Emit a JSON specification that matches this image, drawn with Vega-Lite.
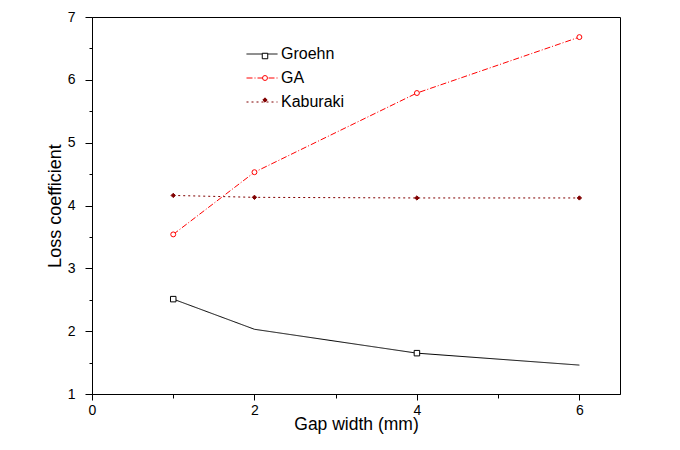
{
  "$schema": "https://vega.github.io/schema/vega-lite/v6.json",
  "width": 528,
  "height": 377,
  "autosize": {"type": "none"},
  "padding": {"left": 92, "top": 17, "right": 60, "bottom": 56},
  "background": "white",
  "config": {
    "view": {"stroke": "black", "strokeWidth": 1},
    "font": "Liberation Sans",
    "axis": {
      "grid": false,
      "domainColor": "black",
      "tickColor": "black",
      "labelColor": "black",
      "titleColor": "black",
      "labelFont": "Liberation Sans",
      "titleFont": "Liberation Sans",
      "labelFontSize": 14,
      "titleFontWeight": "normal",
      "labelOverlap": false,
      "labelFlush": false
    }
  },
  "data": {
    "values": [
      {"series": "Groehn", "x": 1, "y": 2.51},
      {"series": "Groehn", "x": 2, "y": 2.03},
      {"series": "Groehn", "x": 4, "y": 1.65},
      {"series": "Groehn", "x": 6, "y": 1.46},
      {"series": "GA", "x": 1, "y": 3.54},
      {"series": "GA", "x": 2, "y": 4.53},
      {"series": "GA", "x": 4, "y": 5.79},
      {"series": "GA", "x": 6, "y": 6.68},
      {"series": "Kaburaki", "x": 1, "y": 4.16},
      {"series": "Kaburaki", "x": 2, "y": 4.13},
      {"series": "Kaburaki", "x": 4, "y": 4.12},
      {"series": "Kaburaki", "x": 6, "y": 4.12}
    ]
  },
  "encoding": {
    "x": {
      "field": "x", "type": "quantitative",
      "scale": {"domain": [0, 6.5], "nice": false, "zero": false},
      "axis": {
        "title": "Gap width (mm)",
        "titleFontSize": 17.5,
        "values": [0, 1, 2, 3, 4, 5, 6],
        "labelExpr": "datum.value % 2 == 0 ? datum.label : ''",
        "tickSize": {"condition": {"test": "datum.value % 2 == 0", "value": 6}, "value": 4},
        "labelPadding": 3,
        "titlePadding": -2
      }
    },
    "y": {
      "field": "y", "type": "quantitative",
      "scale": {"domain": [1, 7], "nice": false, "zero": false},
      "axis": {
        "title": "Loss coefficient",
        "titleFontSize": 18,
        "values": [1, 1.5, 2, 2.5, 3, 3.5, 4, 4.5, 5, 5.5, 6, 6.5, 7],
        "labelExpr": "datum.value % 1 == 0 ? format(datum.value, 'd') : ''",
        "tickSize": {"condition": {"test": "datum.value % 1 == 0", "value": 7}, "value": 3},
        "labelPadding": 10,
        "titlePadding": 3
      }
    }
  },
  "layer": [
    {
      "mark": {"type": "line", "strokeWidth": 1},
      "encoding": {
        "color": {
          "field": "series", "type": "nominal",
          "scale": {"domain": ["Groehn", "GA", "Kaburaki"], "range": ["#000000", "#ff0000", "#800000"]},
          "legend": {
            "title": null, "orient": "none", "legendX": 154, "legendY": 21,
            "padding": 0, "rowPadding": -8, "symbolSize": 961, "symbolStrokeWidth": 1,
            "labelOffset": 3, "labelFont": "Liberation Sans", "labelFontSize": 16, "labelColor": "black"
          }
        },
        "strokeDash": {
          "field": "series", "type": "nominal",
          "scale": {"domain": ["Groehn", "GA", "Kaburaki"], "range": [[1, 0], [6, 2, 1, 2], [2, 3]]},
          "legend": {
            "title": null, "orient": "none", "legendX": 154, "legendY": 21,
            "padding": 0, "rowPadding": -8, "symbolSize": 961, "symbolStrokeWidth": 1,
            "labelOffset": 3, "labelFont": "Liberation Sans", "labelFontSize": 16, "labelColor": "black"
          }
        }
      }
    },
    {
      "transform": [{"filter": "!(datum.series == 'Groehn' && (datum.x == 2 || datum.x == 6))"}],
      "mark": {"type": "point", "filled": false, "strokeWidth": 1, "opacity": 1},
      "encoding": {
        "shape": {
          "field": "series", "type": "nominal",
          "scale": {"domain": ["Groehn", "GA", "Kaburaki", "_"], "range": ["square", "circle", "diamond", "circle"]},
          "legend": {
            "title": null, "orient": "none", "legendX": 165, "legendY": 31, "values": ["Groehn", "GA", "Kaburaki"],
            "padding": 0, "rowPadding": 6, "symbolStrokeWidth": 1, "symbolOpacity": 1,
            "labelOffset": 5, "labelFont": "Liberation Sans", "labelFontSize": 16, "labelExpr": "''"
          }
        },
        "size": {
          "field": "series", "type": "nominal",
          "scale": {"domain": ["Groehn", "GA", "Kaburaki", "_"], "range": [30, 13, 130, 13]},
          "legend": {
            "title": null, "orient": "none", "legendX": 165, "legendY": 31, "values": ["Groehn", "GA", "Kaburaki"],
            "padding": 0, "rowPadding": 6, "symbolStrokeWidth": 1, "symbolOpacity": 1,
            "labelOffset": 5, "labelFont": "Liberation Sans", "labelFontSize": 16, "labelExpr": "''"
          }
        },
        "stroke": {
          "field": "series", "type": "nominal",
          "scale": {"domain": ["Groehn", "GA", "Kaburaki", "_"], "range": ["#000000", "#ff0000", "#800000", "#000000"]},
          "legend": {
            "title": null, "orient": "none", "legendX": 165, "legendY": 31, "values": ["Groehn", "GA", "Kaburaki"],
            "padding": 0, "rowPadding": 6, "symbolStrokeWidth": 1, "symbolOpacity": 1,
            "labelOffset": 5, "labelFont": "Liberation Sans", "labelFontSize": 16, "labelExpr": "''"
          }
        },
        "fill": {
          "field": "series", "type": "nominal",
          "scale": {"domain": ["Groehn", "GA", "Kaburaki", "_"], "range": ["white", "white", "#800000", "white"]},
          "legend": {
            "title": null, "orient": "none", "legendX": 165, "legendY": 31, "values": ["Groehn", "GA", "Kaburaki"],
            "padding": 0, "rowPadding": 6, "symbolStrokeWidth": 1, "symbolOpacity": 1,
            "labelOffset": 5, "labelFont": "Liberation Sans", "labelFontSize": 16, "labelExpr": "''"
          }
        }
      }
    }
  ]
}
